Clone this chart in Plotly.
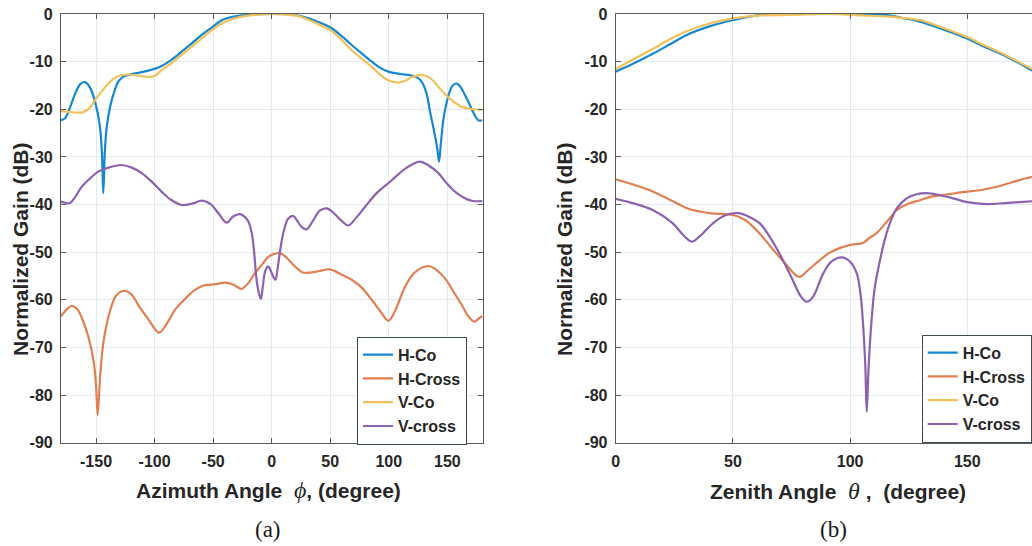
import plotly.graph_objects as go

# ---------------- data: (a) azimuth cut ----------------
az_hco_x = [-180, -176.5, -172, -167, -163, -159.4, -155, -150.9, -147, -145, -143.8, -142.5, -141, -138, -134, -131,
            -127, -122.5, -115, -105.4, -94, -85, -76.9, -68, -59.8, -51, -42.7, -34, -25.6, -15, 0, 15, 22, 31.3,
            42, 51.2, 60, 68.3, 77, 85.4, 92, 99.6, 110, 119.5, 124, 128, 132, 135.2, 139, 141.5, 142.9, 144.5,
            147, 150.3, 154, 158, 162, 165, 167.9, 172, 176.4, 180]
az_hco_y = [-22.3, -21.9, -19.5, -16.2, -14.6, -14.3, -15.5, -18.4, -23, -29, -37.6, -29, -24, -19.5, -16, -14.2,
            -13.2, -12.8, -12.4, -11.9, -10.9, -9.5, -7.9, -6.1, -4.4, -2.8, -1.3, -0.6, -0.3, -0.1, 0, -0.1, -0.3,
            -0.9, -1.9, -3.0, -4.7, -6.5, -8.3, -10.0, -11.2, -12.1, -12.6, -12.9, -13.3, -14.2, -16.5, -20.5, -25,
            -28.5, -31, -27, -21.5, -17.7, -15.2, -14.6, -15.6, -17, -18.4, -20.6, -22.3, -22.3]

az_hcr_x = [-180, -175, -170.8, -166, -161, -156.6, -152, -150, -148.6, -146.5, -144.5, -142.4, -138, -133,
            -126, -120, -113.9, -105, -96.2, -89, -82.6, -74, -65.5, -58, -51.2, -45, -39.9, -33, -28, -25.6, -20,
            -14.3, -8, -2.9, 2, 7.1, 12, 19.9, 26, 32.7, 40, 49.8, 58, 68.3, 77, 85.4, 93, 99.6, 105, 113.8, 122,
            133.7, 141, 148, 155, 162.3, 168, 173, 177, 180]
az_hcr_y = [-63.5, -62, -61.3, -62, -64.5, -67.7, -73, -78, -84.2, -76, -70.5, -67.0, -62.3, -59.2,
            -58.1, -58.8, -61.1, -64.2, -66.9, -64.8, -62.1, -59.8, -57.9, -57, -56.8, -56.6, -56.4, -56.8, -57.5,
            -57.7, -56.5, -54.4, -52.5, -51, -50.4, -50.2, -51, -53, -54.2, -54.3, -54, -53.6, -54.5, -55.8, -57.5,
            -60, -62.5, -64.4, -62.5, -57.3, -54.3, -52.9, -53.8, -55.5, -58.2, -61.1, -63.5, -64.6, -63.9, -63.4]

az_vco_x = [-180, -172, -165, -160.9, -155, -150.9, -145, -139.5, -134, -128, -122, -116.7, -110, -105.4, -100, -94,
            -85, -76.9, -68, -59.8, -51, -42.7, -34, -25.6, -15, 0, 15, 22, 31.3, 42, 51.2, 60, 68.3, 77, 85.4, 92,
            99.6, 108.1, 114, 119.5, 125, 130.9, 137, 142.3, 148, 153.7, 160, 165, 172, 180]
az_vco_y = [-20.4, -20.6, -20.7, -20.6, -19.6, -18.1, -16.2, -14.6, -13.4, -12.8, -12.7, -12.8, -13.1, -13.2, -13.0,
            -11.8, -10.2, -8.6, -6.8, -5.1, -3.4, -2.0, -1.1, -0.56, -0.2, 0, -0.2, -0.4, -1.2, -2.4, -3.6, -5.5,
            -7.6, -9.4, -11.1, -12.6, -13.9, -14.4, -14.0, -13.3, -12.9, -12.9, -13.8, -15.3, -16.8, -18.1, -19.2,
            -19.7, -20.0, -20.1]

az_vcr_x = [-180, -175, -172.2, -168, -162.3, -155, -148.1, -140, -128.1, -120, -111, -102, -94, -86, -76.9, -68,
            -59.8, -55, -51.2, -45, -38.4, -33, -27, -23, -20, -17, -15, -12.8, -10.5, -9.2, -7.5, -5.5, -3, -1, 1,
            3.2, 5, 7, 9, 11.5, 14, 18.4, 22, 26, 29.9, 35, 41, 47, 53, 60, 65.4, 72, 79.7, 90, 102.5, 115, 126.6,
            134, 142.3, 150, 156.5, 163, 170.8, 180]
az_vcr_y = [-39.4, -39.7, -39.7, -38.5, -36.3, -34.5, -33.1, -32.3, -31.7, -32.2, -33.4, -35.3, -37.3, -39, -40.1,
            -39.8, -39.2, -39.5, -40.1, -42, -43.8, -42.5, -42.0, -42.6, -43.5, -46, -50, -56, -59, -59.8, -57, -54,
            -53, -53.8, -55, -55.8, -53.5, -50, -47, -44.5, -43, -42.4, -43.5, -44.8, -45.2, -43.5, -41.3, -40.8,
            -41.8, -43.5, -44.4, -42.8, -40.5, -37.5, -34.9, -32.3, -31, -31.8, -33.4, -35.7, -37.3, -38.4, -39.2,
            -39.3]

# ---------------- data: (b) zenith cut ----------------
ze_hco_x = [0, 8, 16, 23, 30.3, 40, 50.2, 61.6, 75, 90, 105, 115.6, 122, 129.8, 140, 149.7, 157, 165.4, 172, 177.5, 180]
ze_hco_y = [-12.1, -10.3, -8.3, -6.4, -4.4, -2.6, -1.26, -0.2, 0, 0, 0, -0.2, -0.8, -1.6, -3.3, -5.1, -6.8, -8.6,
            -10.3, -11.8, -12.3]

ze_vco_x = [0, 8, 16, 23, 30.3, 40, 50.2, 61.6, 75, 90, 105, 115, 122, 129.8, 140, 149.7, 157, 165.4, 172, 177.5, 180]
ze_vco_y = [-11.6, -9.4, -7.3, -5.3, -3.6, -2.0, -0.9, -0.3, -0.2, 0, -0.3, -0.5, -0.8, -1.3, -3.0, -4.8, -6.5,
            -8.4, -10.1, -11.5, -12.0]

ze_hcr_x = [0, 8, 16, 24, 31.7, 40, 50.2, 55, 58.7, 63, 67.2, 72, 78.3, 82, 87.2, 91, 95.7, 100, 105.6, 108, 111.3,
            115, 119.9, 125, 129.8, 135, 141.2, 148, 155.4, 165.4, 172, 177.6, 180]
ze_hcr_y = [-34.7, -35.9, -37.3, -39.2, -41.0, -41.8, -42.2, -43.2, -44.7, -47, -49.5, -52.2, -55.2, -53.8, -51.6,
            -50.2, -49.1, -48.5, -48, -47.1, -46, -44, -41.2, -39.8, -39.1, -38.3, -37.9, -37.4, -37.0, -35.9,
            -34.9, -34.2, -34]

ze_vcr_x = [0, 8, 16, 24, 29, 32.4, 36, 41.6, 47, 52.3, 57, 61.6, 66, 70.1, 75, 79, 81.5, 84, 88.6, 92, 96.4, 100,
            102.8, 104.5, 105.6, 106.5, 107.1, 107.9, 109.2, 110.5, 112.8, 115, 117, 119.9, 124.1, 128, 132.7, 138,
            144, 150, 158.3, 166, 172, 177.8, 180]
ze_vcr_y = [-38.8, -39.8, -41.2, -43.8, -46.5, -47.8, -46.6, -43.9, -42.2, -41.8, -42.6, -44, -47, -50.5, -55.3,
            -59.3, -60.4, -59.5, -54.4, -52, -51.1, -52, -54.4, -59, -65.7, -74, -83.5, -74, -64, -57.5, -51.6, -47,
            -43.9, -40.8, -38.7, -37.9, -37.6, -38, -38.7, -39.5, -39.9, -39.7, -39.5, -39.3, -39.2]

names = ["H-Co", "H-Cross", "V-Co", "V-cross"]
colors = ["#1589cf", "#e07f4f", "#f0c15a", "#8c62b0"]
y_ticks = [0, -10, -20, -30, -40, -50, -60, -70, -80, -90]
y_ticktext = ["0", "-10", "-20", "-30", "-40", "-50", "-60", "-70", "-80", "-90"]
az_ticks = [-150, -100, -50, 0, 50, 100, 150]
az_ticktext = ["-150", "-100", "-50", "0", "50", "100", "150"]
ze_ticks = [0, 50, 100, 150]
ze_ticktext = ["0", "50", "100", "150"]

W, H = 1032, 546
TXT = "#262626"
FONT = "Liberation Sans"

fig = go.Figure()

az_sets = [(az_hco_x, az_hco_y), (az_hcr_x, az_hcr_y), (az_vco_x, az_vco_y), (az_vcr_x, az_vcr_y)]
ze_sets = [(ze_hco_x, ze_hco_y), (ze_hcr_x, ze_hcr_y), (ze_vco_x, ze_vco_y), (ze_vcr_x, ze_vcr_y)]

for (xs, ys), n, c in zip(az_sets, names, colors):
    fig.add_trace(go.Scatter(x=xs, y=ys, name=n, mode="lines",
                             line=dict(color=c, width=2.2, shape="spline", smoothing=1.0),
                             xaxis="x", yaxis="y", legend="legend"))
for (xs, ys), n, c in zip(ze_sets, names, colors):
    fig.add_trace(go.Scatter(x=xs, y=ys, name=n, mode="lines",
                             line=dict(color=c, width=2.2, shape="spline", smoothing=1.0),
                             xaxis="x2", yaxis="y2", legend="legend2"))

# pixel geometry
ax_l, ax_r = 60.9, 482.5
bx_l = 615.7
y_top, y_bot = 14.0, 442.7
px_per_deg_b = 2.344
ze_max = (W - bx_l) / px_per_deg_b

def px(x):
    return x / W

def py(y):
    return 1 - y / H

axis_common = dict(showgrid=True, gridcolor="#e3e9f0", gridwidth=1, zeroline=False,
                   showline=True, linecolor="#5a5a5a", linewidth=1,
                   ticks="inside", ticklen=5, tickcolor="#5a5a5a", automargin=False,
                   tickfont=dict(family=FONT, size=16, color=TXT, weight="bold"),
                   ticklabelstandoff=4)

fig.update_layout(
    width=W, height=H,
    margin=dict(l=0, r=0, t=0, b=0, autoexpand=False),
    paper_bgcolor="white", plot_bgcolor="white",
    showlegend=True,
    xaxis=dict(domain=[px(ax_l), px(ax_r)], range=[-180, 180], tickvals=az_ticks, ticktext=az_ticktext,
               anchor="y", mirror="ticks", **axis_common),
    yaxis=dict(domain=[py(y_bot), py(y_top)], range=[-90, 0], tickvals=y_ticks, ticktext=y_ticktext,
               anchor="x", mirror="ticks", **axis_common),
    xaxis2=dict(domain=[px(bx_l), 1.0], range=[0, ze_max], tickvals=ze_ticks, ticktext=ze_ticktext,
                anchor="y2", mirror="ticks", **axis_common),
    yaxis2=dict(domain=[py(y_bot), py(y_top)], range=[-90, 0], tickvals=y_ticks, ticktext=y_ticktext,
                anchor="x2", mirror=False, **axis_common),
    legend=dict(x=px(357), y=py(336.7), xanchor="left", yanchor="top",
                bgcolor="white", bordercolor="#3d4f55", borderwidth=1,
                font=dict(family=FONT, size=16, color=TXT, weight="bold"),
                tracegroupgap=0, itemwidth=30),
    legend2=dict(x=px(921.7), y=py(334.7), xanchor="left", yanchor="top",
                 bgcolor="white", bordercolor="#3d4f55", borderwidth=1,
                 font=dict(family=FONT, size=16, color=TXT, weight="bold"),
                 tracegroupgap=0, itemwidth=30),
)

title_font = dict(family=FONT, size=21, color=TXT, weight="bold")
phi = '<span style="font-family:Liberation Serif;font-style:italic;font-weight:normal;font-size:24px">ϕ</span>'
theta = '<span style="font-family:Liberation Serif;font-style:italic;font-weight:normal;font-size:24px">θ</span>'

anns = [
    dict(text="Normalized Gain (dB)", x=px(21), y=py(249), textangle=-90),
    dict(text="Normalized Gain (dB)", x=px(565), y=py(249), textangle=-90),
    dict(text="Azimuth Angle  " + phi + ", (degree)", x=px(268.5), y=py(490)),
    dict(text="Zenith Angle  " + theta + " ,  (degree)", x=px(837.5), y=py(491)),
]
for a in anns:
    fig.add_annotation(xref="paper", yref="paper", showarrow=False, xanchor="center", yanchor="middle",
                       font=title_font, **a)

for lab, cx in [("(a)", 268), ("(b)", 833)]:
    fig.add_annotation(text=lab, xref="paper", yref="paper", x=px(cx), y=py(529), showarrow=False,
                       xanchor="center", yanchor="middle",
                       font=dict(family="Liberation Serif", size=23, color="#1a1a1a"))

fig.write_html("out.html")
